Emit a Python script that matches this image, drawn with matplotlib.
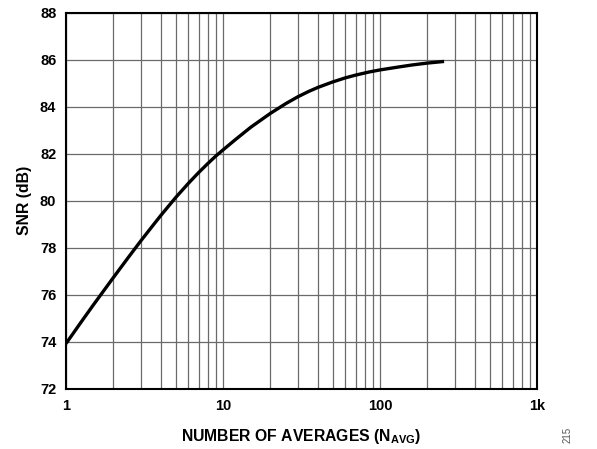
import matplotlib

matplotlib.use("Agg")

import matplotlib.pyplot as plt
from matplotlib.ticker import FixedLocator, NullFormatter, LogLocator

# values
n_avg = [1, 1.25, 1.5, 2, 2.5, 3, 3.5, 4, 5, 6, 7, 8, 9, 10, 12, 15, 20, 25, 30,
         35, 40, 50, 60, 70, 85, 100, 130, 160, 200, 256]
snr_db = [73.93, 74.85, 75.59, 76.73, 77.60, 78.30, 78.87, 79.36, 80.14, 80.73,
          81.20, 81.58, 81.90, 82.16, 82.60, 83.12, 83.71, 84.12, 84.42, 84.64,
          84.81, 85.05, 85.22, 85.34, 85.47, 85.56, 85.68, 85.77, 85.85, 85.92]

x_ticks = [1, 10, 100, 1000]
x_tick_labels = ["1", "10", "100", "1k"]
y_ticks = list(range(72, 89, 2))

plt.rcParams["font.family"] = ["Liberation Sans", "DejaVu Sans"]
plt.rcParams["font.weight"] = "bold"
plt.rcParams["mathtext.fontset"] = "custom"
plt.rcParams["mathtext.rm"] = "Liberation Sans:bold"
plt.rcParams["mathtext.bf"] = "Liberation Sans:bold"
plt.rcParams["mathtext.it"] = "Liberation Sans:bold"

fig = plt.figure(figsize=(5.97, 4.49), dpi=100)
ax = fig.add_axes([66 / 597, 1 - 389 / 449, (537 - 66) / 597, (389 - 12.5) / 449])

ax.plot(n_avg, snr_db, color="black", linewidth=2.4, solid_capstyle="butt")

ax.set_xscale("log")
ax.set_xlim(1, 1000)
ax.set_ylim(72, 88)
ax.xaxis.set_major_locator(FixedLocator(x_ticks))
ax.set_xticklabels(x_tick_labels)
ax.xaxis.set_minor_locator(LogLocator(base=10, subs=range(2, 10)))
ax.xaxis.set_minor_formatter(NullFormatter())
ax.set_yticks(y_ticks)

ax.grid(True, which="both", color="#6a6a6a", linewidth=0.9)
ax.set_axisbelow(True)
ax.tick_params(which="both", length=0, labelsize=10.5)
ax.tick_params(axis="x", pad=7)
ax.tick_params(axis="y", pad=7)
for label in ax.get_xticklabels() + ax.get_yticklabels():
    label.set_fontweight("bold")

for spine in ax.spines.values():
    spine.set_linewidth(1.5)
    spine.set_color("black")

ax.set_xlabel(r"NUMBER OF AVERAGES (N$_{\mathregular{AVG}}$)", fontsize=11.3,
              fontweight="bold", labelpad=10)
ax.set_ylabel("SNR (dB)", fontsize=11.3, fontweight="bold", labelpad=6)

fig.text(0.95, 0.013, "215", rotation=90, fontsize=7, color="#555555",
         fontweight="normal", ha="center", va="bottom")

fig.savefig("out.png", dpi=100)
